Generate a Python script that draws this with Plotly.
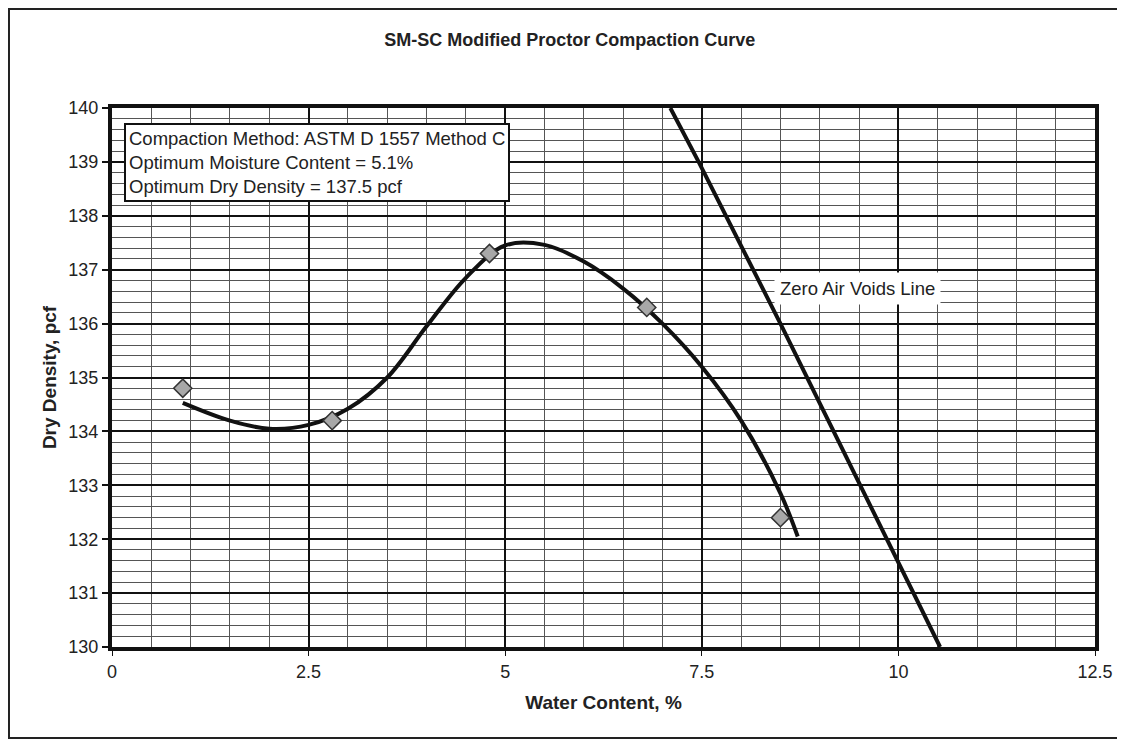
import plotly.graph_objects as go

# Data
test_water = [0.9, 2.8, 4.8, 6.8, 8.5]
test_density = [134.8, 134.2, 137.3, 136.3, 132.4]

curve_water = [0.9, 1.5, 2.0, 2.5, 3.0, 3.5, 4.0, 4.5, 5.0, 5.5, 6.0, 6.5, 7.0, 7.5, 8.0, 8.5, 8.72]
curve_density = [134.53, 134.2, 134.05, 134.12, 134.42, 135.0, 135.95, 136.85, 137.45, 137.46, 137.15, 136.65, 136.0, 135.2, 134.2, 132.85, 132.05]

zav_water = [7.1, 7.46, 8.5, 10.53]
zav_density = [140.0, 139.0, 136.0, 130.0]

x_ticks = [0, 2.5, 5, 7.5, 10, 12.5]
x_tick_labels = ["0", "2.5", "5", "7.5", "10", "12.5"]
y_ticks = [130, 131, 132, 133, 134, 135, 136, 137, 138, 139, 140]

info_lines = ["Compaction Method: ASTM D 1557 Method C",
              "Optimum Moisture Content = 5.1%",
              "Optimum Dry Density = 137.5 pcf"]

fig = go.Figure()
fig.add_trace(go.Scatter(x=zav_water, y=zav_density, mode="lines",
                         line=dict(color="#111", width=4), hoverinfo="skip"))
fig.add_trace(go.Scatter(x=curve_water, y=curve_density, mode="lines",
                         line=dict(color="#111", width=4, shape="spline", smoothing=1.0),
                         hoverinfo="skip"))
fig.add_trace(go.Scatter(x=test_water, y=test_density, mode="markers",
                         marker=dict(symbol="diamond", size=14, color="#a8a8a8",
                                     line=dict(color="#333", width=1.5))))

font_main = "Arial, Liberation Sans, sans-serif"

fig.update_layout(
    width=1117, height=733, autosize=False,
    margin=dict(l=104, r=30, t=100, b=94),
    paper_bgcolor="white", plot_bgcolor="white",
    showlegend=False,
    font=dict(family=font_main, color="#222", size=18),
    title=dict(text="<b>SM-SC Modified Proctor Compaction Curve</b>",
               x=0.503, xanchor="center", y=0.957, yanchor="middle",
               font=dict(size=18, color="#222")),
    xaxis=dict(range=[0, 12.5], tickvals=x_ticks, ticktext=x_tick_labels,
               showgrid=True, gridcolor="#111", gridwidth=2,
               minor=dict(dtick=0.5, showgrid=True, gridcolor="#555", gridwidth=1),
               showline=True, linecolor="#111", linewidth=4, mirror=True,
               ticks="outside", ticklen=5, tickcolor="#111", tickwidth=1,
               zeroline=False, tickfont=dict(size=18, color="#222"),
               title=dict(text="<b>Water Content, %</b>", font=dict(size=19, color="#222"),
                          standoff=16)),
    yaxis=dict(range=[130, 140], tickvals=y_ticks,
               showgrid=True, gridcolor="#111", gridwidth=2,
               minor=dict(dtick=0.2, showgrid=True, gridcolor="#555", gridwidth=1),
               showline=True, linecolor="#111", linewidth=4, mirror=True,
               ticks="outside", ticklen=6, tickcolor="#111", tickwidth=1.5,
               zeroline=False, tickfont=dict(size=18, color="#222"),
               title=dict(text="<b>Dry Density, pcf</b>", font=dict(size=19, color="#222"),
                          standoff=8)),
)

# Info box
fig.add_annotation(xref="paper", yref="paper", x=0.0122, y=0.973,
                   xanchor="left", yanchor="top", align="left",
                   text="<br>".join(info_lines), showarrow=False,
                   font=dict(size=18.5, color="#222", family=font_main),
                   bgcolor="white", bordercolor="#111", borderwidth=2, borderpad=3)

# Zero Air Voids label
fig.add_annotation(x=9.48, y=136.66, text="Zero Air Voids Line", showarrow=False,
                   font=dict(size=18.5, color="#222", family=font_main),
                   bgcolor="white", borderpad=5)

# Outer border
fig.add_shape(type="rect", xref="paper", yref="paper",
              x0=-0.1048, x1=1.0265, y0=-0.169, y1=1.1837,
              line=dict(color="#222", width=2), layer="above")

fig.write_html("out.html")
